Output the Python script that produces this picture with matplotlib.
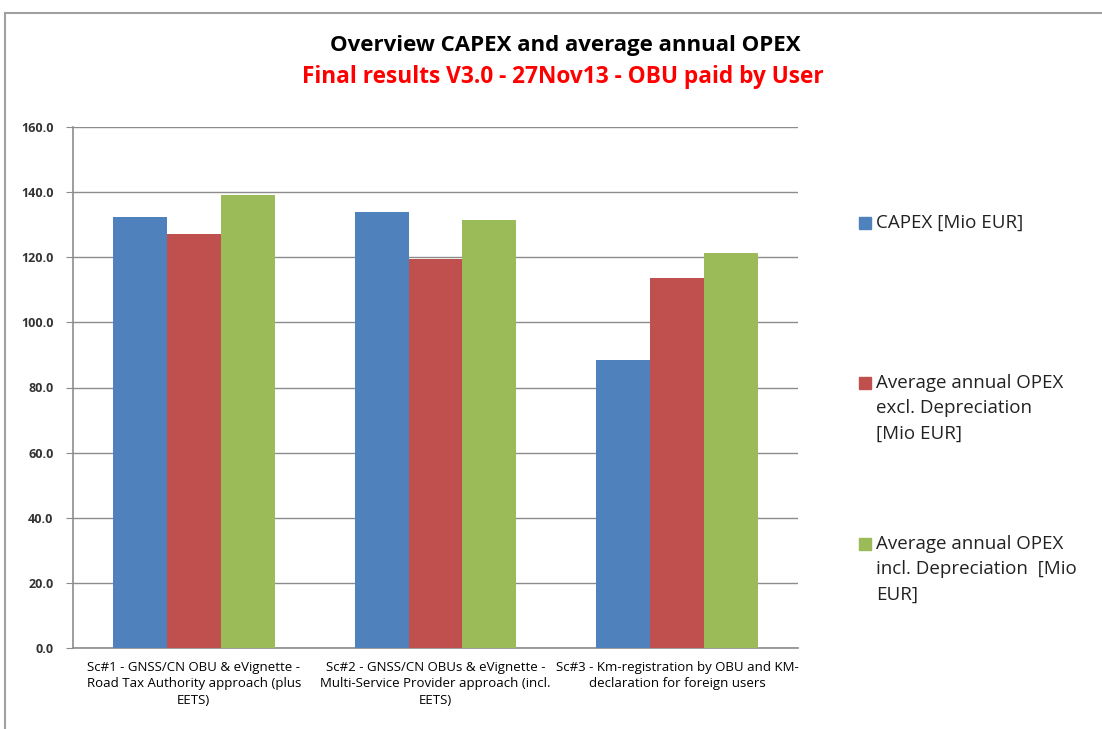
import matplotlib
matplotlib.use('Agg')
import matplotlib.pyplot as plt
from matplotlib.patches import Rectangle
from matplotlib.lines import Line2D
import numpy as np

plt.rcParams['font.family'] = ['Open Sans', 'DejaVu Sans']

scenarios = ['Sc#1 - GNSS/CN OBU & eVignette -\nRoad Tax Authority approach (plus\nEETS)',
             'Sc#2 - GNSS/CN OBUs & eVignette -\nMulti-Service Provider approach (incl.\nEETS)',
             'Sc#3 - Km-registration by OBU and KM-\ndeclaration for foreign users']
capex = [132.4, 133.9, 88.5]
opex_excl = [127.1, 119.5, 113.6]
opex_incl = [139.1, 131.4, 121.3]
series_names = ['CAPEX [Mio EUR]',
                'Average annual OPEX\nexcl. Depreciation\n[Mio EUR]',
                'Average annual OPEX\nincl. Depreciation  [Mio\nEUR]']
colors = ['#4F81BD', '#C0504D', '#9BBB59']

W, H = 1102, 729
fig = plt.figure(figsize=(W / 100, H / 100), dpi=100)
ax = fig.add_axes([73 / W, 1 - 648 / H, (798 - 73) / W, (648 - 127) / H])

x = np.arange(len(scenarios))
w = 0.223
for i, vals in enumerate([capex, opex_excl, opex_incl]):
    ax.bar(x + (i - 1) * w, vals, width=w, color=colors[i], zorder=3)

ax.set_xlim(-0.5, 2.5)
ax.set_ylim(0, 160)
ax.set_yticks(np.arange(0, 161, 20))
ax.set_yticklabels(['%.1f' % v for v in np.arange(0, 161, 20)], fontsize=9, fontweight='bold', color='#333333')
ax.yaxis.grid(True, color='#8c8c8c', linewidth=1.0, zorder=0)
ax.set_xticks(x)
ax.set_xticklabels(scenarios, fontsize=9.5, linespacing=1.38)
ax.tick_params(axis='x', length=0, pad=9)
ax.tick_params(axis='y', length=5, color='#8c8c8c', pad=9)
for s in ['top', 'right']:
    ax.spines[s].set_visible(False)
for s in ['left', 'bottom']:
    ax.spines[s].set_color('#8c8c8c')
    ax.spines[s].set_linewidth(1.2)

# titles
fig.text(565 / W, 1 - 46 / H, 'Overview CAPEX and average annual OPEX', ha='center', va='center',
         fontsize=16, fontweight='bold', color='black')
fig.text(563 / W, 1 - 77 / H, 'Final results V3.0 - 27Nov13 - OBU paid by User', ha='center', va='center',
         fontsize=16.3, fontweight='bold', color='#FF0000')

# legend
legend_tops = [222, 382, 543]
for name, col, top in zip(series_names, colors, legend_tops):
    fig.add_artist(Rectangle((859 / W, 1 - (top + 7) / H), 12 / W, 12 / H,
                             transform=fig.transFigure, color=col))
    fig.text(876 / W, 1 - (top - 8) / H, name, ha='left', va='top', fontsize=13.5,
             linespacing=1.52, color='#222222')

# outer frame
fig.add_artist(Line2D([5 / W, 5 / W], [0, 1 - 13 / H], transform=fig.transFigure, color='#a0a0a0', lw=1.5))
fig.add_artist(Line2D([5 / W, 1], [1 - 13 / H, 1 - 13 / H], transform=fig.transFigure, color='#a0a0a0', lw=1.5))

fig.savefig('out.png', dpi=100)
